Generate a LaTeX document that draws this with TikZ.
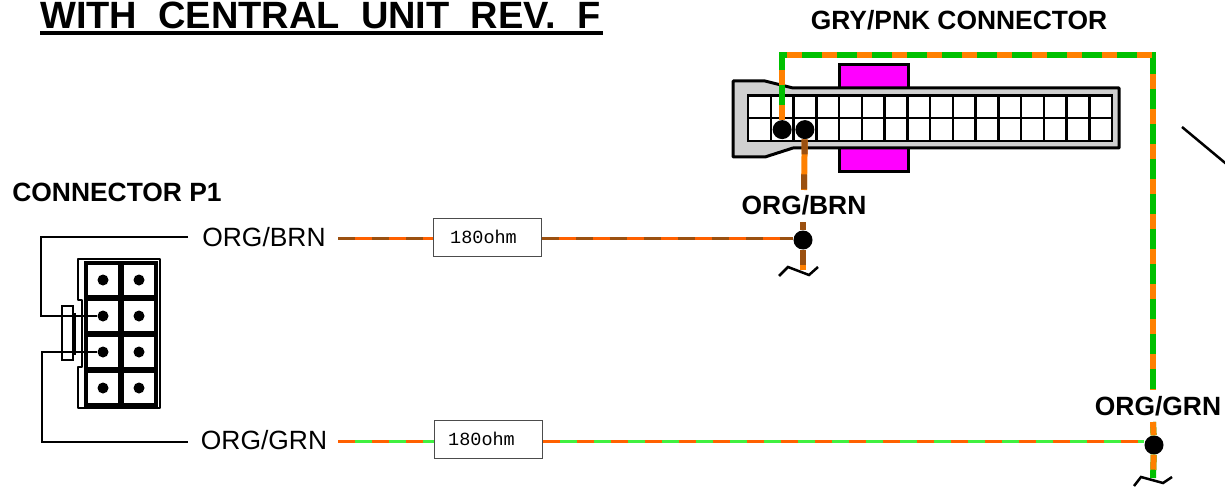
\documentclass[tikz,border=0pt]{standalone}
\usepackage{fontspec}
\setmainfont{Liberation Sans}
\newfontfamily\wiremono{Liberation Mono}
\usetikzlibrary{shapes.geometric, arrows, positioning}
\definecolor{orgwire}{HTML}{FF8000}
\definecolor{grnwire}{HTML}{00C000}
\definecolor{brnwire}{HTML}{9B5010}
\definecolor{orgthin}{HTML}{FF6000}
\definecolor{grnthin}{HTML}{40F040}
\definecolor{bodygray}{HTML}{D0D0D0}
\definecolor{clipmag}{HTML}{FF00FF}
\tikzstyle{heading} = [inner sep=0pt, font=\fontsize{38}{40}\selectfont\bfseries, anchor=base west]
\tikzstyle{boldlabel} = [inner sep=0pt, font=\fontsize{26.4}{30}\selectfont\bfseries]
\tikzstyle{wirelabel} = [inner sep=0pt, font=\fontsize{26.4}{30}\selectfont]
\tikzstyle{resistor} = [rectangle, minimum width=108pt, minimum height=38pt, inner sep=0pt, draw=black!70, line width=1pt, fill=white, font=\wiremono\fontsize{18.5}{20}\selectfont]
\tikzstyle{dot} = [circle, fill=black, minimum size=19pt, inner sep=0pt]
\tikzstyle{pindot} = [circle, fill=black, minimum size=11pt, inner sep=0pt]
\tikzstyle{cell} = [rectangle, draw=black, fill=white, line width=2.5pt, minimum width=22.75pt, minimum height=22.75pt, inner sep=0pt]
\tikzstyle{pincell} = [rectangle, draw=black, fill=white, line width=4.5pt, minimum size=34pt, inner sep=0pt]
\tikzstyle{clip block} = [draw=black, fill=clipmag, line width=3pt]
\tikzstyle{body} = [draw=black, fill=bodygray, line width=3pt, line join=round]
\tikzstyle{blackline} = [draw=black, line width=2.5pt]
\tikzstyle{wireorggrn} = [line width=6pt, draw=grnwire, postaction={draw=orgwire, dash pattern=on 15pt off 20pt}]
\tikzstyle{wireorgbrn} = [line width=6pt, draw=orgwire, postaction={draw=brnwire, dash pattern=on 15pt off 20pt}]
\tikzstyle{thinorggrn} = [line width=3pt, draw=grnthin, postaction={draw=orgthin, dash pattern=on 17pt off 17pt}]
\tikzstyle{thinorgbrn} = [line width=3pt, draw=orgthin, postaction={draw=brnwire, dash pattern=on 17pt off 17pt}]
\begin{document}
\begin{tikzpicture}[x=1pt, y=-1pt]
  \useasboundingbox (0,0) rectangle (1225,489);
  \clip (0,0) rectangle (1225,489);

  % titles
  \node (title) [heading] at (40,28.5) {\rlap{\rule[-6.5pt]{563pt}{3.5pt}}WITH\ \ CENTRAL\ \ UNIT\ \ REV.\ \ F};
  \node (gryname) [boldlabel] at (959,20) {GRY/PNK CONNECTOR};
  \node (p1name) [boldlabel] at (117,192) {CONNECTOR P1};

  % connector on the right
  \draw [clip block] (839,65) rectangle (908,172);
  \draw [body] (733,81) -- (765,81) -- (793,88) -- (1119,88) -- (1119,148) -- (793,148) -- (765,157) -- (733,157) -- cycle;
  \foreach \c in {1,...,16}
    \foreach \r in {1,2}
      \node (cell-\c-\r) [cell] at (748+22.75*\c-11.375, 95.5+22.75*\r-11.375) {};
  \node (dotgrn) [dot] at (cell-2-2) {};
  \node (dotbrn) [dot] at (cell-3-2) {};

  % connector P1
  \draw [blackline, fill=white, line join=round] (78,259) -- (160,259) -- (160,408) -- (78,408) -- (78,367) -- (82,367) -- (82,300) -- (78,300) -- cycle;
  \foreach \c in {1,2}
    \foreach \r in {1,...,4} {
      \node (pin-\c-\r) [pincell] at (67+36*\c, 244+36*\r) {};
      \node (pdot-\c-\r) [pindot] at (pin-\c-\r) {};
    }
  \draw [blackline] (75,313) -- (75,355);
  \draw [blackline] (62,306) rectangle (73,360);

  % labels and resistors
  \node (lblbrn) [wirelabel] at (264,237) {ORG/BRN};
  \node (lblgrn) [wirelabel] at (264,440) {ORG/GRN};
  \node (topbrn) [boldlabel] at (804,205) {ORG/BRN};
  \node (topgrn) [boldlabel] at (1158,406) {ORG/GRN};
  \node (res1) [resistor] at (487,237) {\hspace{-7pt}\raisebox{-2pt}{180ohm}};
  \node (res2) [resistor] at (488,439) {\hspace{-13pt}\raisebox{-3pt}{180ohm}};
  \node (splicebrn) [dot] at (803,240) {};
  \node (splicegrn) [dot] at (1154,445) {};

  % free ends
  \coordinate (p1a) at (188,237);
  \coordinate (p1b) at (188,442);
  \coordinate (startbrn) at (338,238);
  \coordinate (startgrn) at (338,441.5);
  \coordinate (cornerr) at (1153,55);
  \coordinate (endgrn) at (1153,390);
  \coordinate (resumegrn) at (1153,422);
  \coordinate (tailgrn) at (1153,478);
  \coordinate (endbrn) at (804,190);
  \coordinate (resumebrn) at (803,222);
  \coordinate (tailbrn) at (803,270);

  % black leaders
  \draw [blackline] (p1a) -- (41,237) -- (41,316) -- (pdot-1-2);
  \draw [blackline] (pdot-1-3) -- (42,352) -- (42,442) -- (p1b);

  % wires
  \draw [wireorggrn] (dotgrn) |- (cornerr) -- (endgrn);
  \draw [wireorggrn] (resumegrn) -- (splicegrn);
  \draw [wireorggrn] (splicegrn) -- (tailgrn);
  \draw [wireorgbrn] (dotbrn) -- (endbrn);
  \draw [wireorgbrn] (resumebrn) -- (splicebrn);
  \draw [wireorgbrn] (splicebrn) -- (tailbrn);
  \draw [thinorgbrn] (startbrn) -- (res1.west |- startbrn);
  \draw [thinorgbrn] (res1.east |- startbrn) -- (splicebrn.west |- startbrn);
  \draw [thinorggrn] (startgrn) -- (res2.west |- startgrn);
  \draw [thinorggrn] (res2.east |- startgrn) -- (splicegrn.west |- startgrn);

  % break marks
  \draw [blackline] (779,276) -- (788,267) -- (809,275) -- (818,267);
  \draw [blackline] (1134,486) -- (1141,477) -- (1163,483) -- (1172,477);
  \draw [blackline] (1182,127) -- (1230,167);
\end{tikzpicture}
\end{document}
